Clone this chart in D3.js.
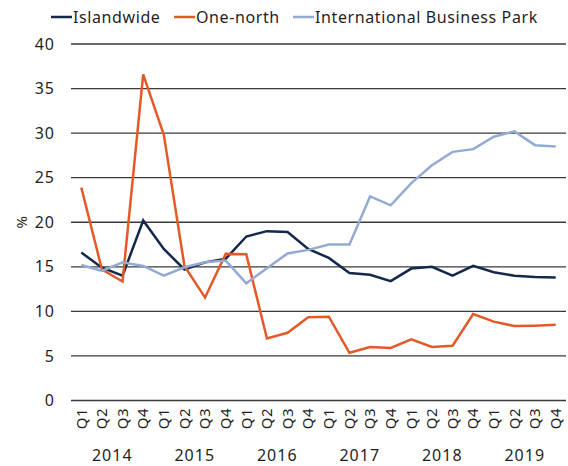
<!DOCTYPE html>
<html>
<head>
<meta charset="utf-8">
<script src="https://cdn.jsdelivr.net/npm/d3@7"></script>
<style>
  body { margin: 0; background: #fff; }
  svg text { font-family: "Noto Sans", "Open Sans", sans-serif; fill: #1f1f1f; }
</style>
</head>
<body>
<div id="chart"></div>
<script>
const years = ["2014", "2015", "2016", "2017", "2018", "2019"];
const quarters = ["Q1", "Q2", "Q3", "Q4"];
const islandwide = [16.6, 14.9, 14.0, 20.2, 17.0, 14.7, 15.5, 15.9, 18.4, 19.0, 18.9, 17.0,
  16.0, 14.3, 14.1, 13.4, 14.8, 15.0, 14.0, 15.1, 14.4, 14.0, 13.85, 13.8];
const oneNorth = [23.9, 14.7, 13.35, 36.6, 29.8, 15.1, 11.55, 16.45, 16.4, 6.95, 7.6, 9.35,
  9.4, 5.35, 6.0, 5.9, 6.85, 6.0, 6.15, 9.7, 8.85, 8.35, 8.4, 8.5];
const ibp = [15.2, 14.55, 15.5, 15.1, 14.0, 14.95, 15.5, 15.7, 13.15, 14.85, 16.5, 16.9,
  17.5, 17.5, 22.9, 21.9, 24.4, 26.4, 27.9, 28.2, 29.6, 30.2, 28.65, 28.5];
const yTicks = [0, 5, 10, 15, 20, 25, 30, 35, 40];

const series = [
  { name: "Islandwide", values: islandwide, color: "#14284b" },
  { name: "One-north", values: oneNorth, color: "#e35a28" },
  { name: "International Business Park", values: ibp, color: "#93aad3" }
];

const width = 568, height = 466;
const margin = { top: 44, right: 2, bottom: 66, left: 71 };

// one category per quarter
const periods = years.flatMap(y => quarters.map(q => y + " " + q));

const svg = d3.select("#chart").append("svg")
  .attr("width", width)
  .attr("height", height);

const x = d3.scaleBand()
  .domain(periods)
  .range([margin.left, width - margin.right]);

const y = d3.scaleLinear()
  .domain([0, 40])
  .range([height - margin.bottom + 0.5, margin.top]);

// gridlines
svg.append("g")
  .selectAll("line")
  .data(yTicks)
  .join("line")
  .attr("x1", margin.left)
  .attr("x2", width - margin.right)
  .attr("y1", d => y(d))
  .attr("y2", d => y(d))
  .attr("stroke", "#3a3a3a")
  .attr("stroke-width", 1.3);

// y axis labels
const yAxis = svg.append("g")
  .attr("transform", `translate(${margin.left - 16},0)`)
  .call(d3.axisLeft(y).tickValues(yTicks).tickSize(0).tickPadding(0));
yAxis.select(".domain").remove();
yAxis.selectAll("text")
  .attr("font-size", 16)
  .attr("letter-spacing", 1)
  .attr("font-family", "'Noto Sans', 'Open Sans', sans-serif")
  .attr("fill", "#1f1f1f");

svg.append("text")
  .attr("transform", `translate(27,${y(20)}) rotate(-90)`)
  .attr("text-anchor", "middle")
  .attr("font-size", 15)
  .text("%");

// x axis: quarter labels, rotated
const xAxis = svg.append("g")
  .attr("transform", `translate(0,${height - margin.bottom})`)
  .call(d3.axisBottom(x).tickSize(0).tickFormat(d => d.split(" ")[1]));
xAxis.select(".domain").remove();
xAxis.selectAll("text")
  .attr("font-size", 15)
  .attr("letter-spacing", 0.5)
  .attr("font-family", "'Noto Sans', 'Open Sans', sans-serif")
  .attr("fill", "#1f1f1f")
  .attr("text-anchor", "end")
  .attr("dy", "0.35em")
  .attr("transform", "translate(0,8) rotate(-90)")
  .attr("x", 0)
  .attr("y", 0);

// year labels centered under each group of four quarters
svg.append("g")
  .selectAll("text")
  .data(years)
  .join("text")
  .attr("x", d => (x(d + " Q1") + x(d + " Q4") + x.bandwidth()) / 2)
  .attr("y", 461)
  .attr("text-anchor", "middle")
  .attr("font-size", 16)
  .attr("letter-spacing", 1)
  .text(d => d);

const line = d3.line()
  .x((d, i) => x(periods[i]) + x.bandwidth() / 2)
  .y(d => y(d));

svg.append("g")
  .selectAll("path")
  .data(series)
  .join("path")
  .attr("d", d => line(d.values))
  .attr("fill", "none")
  .attr("stroke", d => d.color)
  .attr("stroke-width", 2.5)
  .attr("stroke-linejoin", "miter");

// legend
const legendX = [51, 174, 293];
const legend = svg.append("g")
  .selectAll("g")
  .data(series)
  .join("g")
  .attr("transform", (d, i) => `translate(${legendX[i]},17)`);
legend.append("line")
  .attr("x1", 0).attr("x2", 21)
  .attr("stroke", d => d.color)
  .attr("stroke-width", 2.5);
legend.append("text")
  .attr("x", 22)
  .attr("dy", "0.35em")
  .attr("font-size", 16)
  .attr("letter-spacing", 0.6)
  .text(d => d.name);
</script>
</body>
</html>
